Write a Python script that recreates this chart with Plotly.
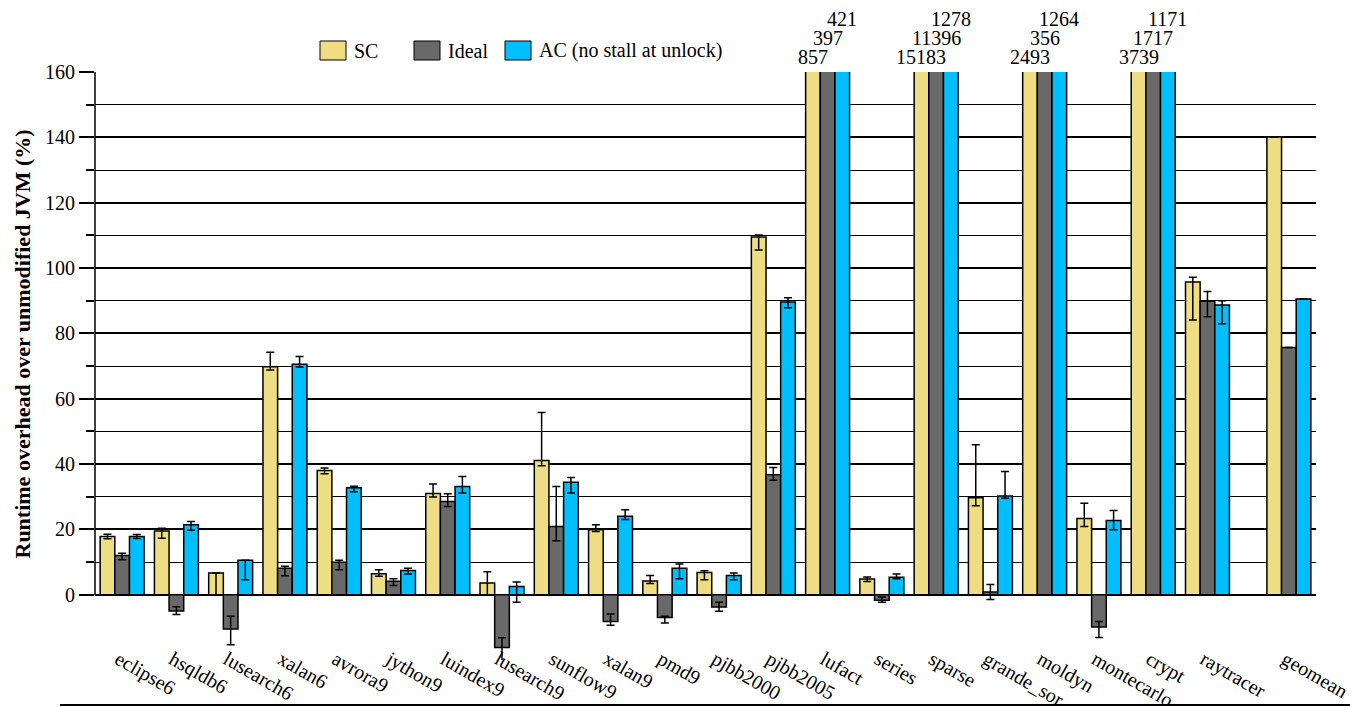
import plotly.graph_objects as go

categories = ["eclipse6", "hsqldb6", "lusearch6", "xalan6", "avrora9", "jython9", "luindex9",
              "lusearch9", "sunflow9", "xalan9", "pmd9", "pjbb2000", "pjbb2005", "lufact",
              "series", "sparse", "grande_sor", "moldyn", "montecarlo", "crypt", "raytracer",
              "geomean"]
# geomean is set apart from the benchmarks by half a slot
positions = list(range(21)) + [21.5]

sc = [17.8, 19.5, 6.6, 69.8, 38.0, 6.4, 31.0, 3.6, 41.1, 19.9, 4.2, 6.8, 109.5, 857,
      4.8, 15183, 29.7, 2493, 23.3, 3739, 95.7, 140.1]
ideal = [12.0, -5.0, -10.5, 8.1, 9.9, 4.1, 28.5, -16.2, 20.9, -8.2, -7.0, -3.8, 36.7, 397,
         -1.7, 11396, 0.8, 356, -9.9, 1717, 89.8, 75.7]
ac = [17.8, 21.4, 10.5, 70.5, 32.7, 7.4, 33.1, 2.5, 34.4, 24.0, 8.1, 5.9, 89.6, 421,
      5.3, 1278, 30.2, 1264, 22.7, 1171, 88.7, 90.5]

sc_err_plus = [0.7, 0.8, 0.0, 4.4, 0.8, 1.2, 2.9, 3.4, 14.7, 1.5, 1.7, 0.5, 0.6, None,
               0.6, None, 16.2, None, 4.7, None, 1.5, None]
sc_err_minus = [0.7, 2.2, 6.6, 1.0, 1.0, 0.8, 1.1, 3.6, 1.6, 0.6, 0.8, 2.2, 4.0, None,
                0.8, None, 2.5, None, 2.4, None, 11.6, None]
ideal_err_plus = [0.7, 1.3, 3.9, 0.6, 0.6, 0.8, 2.4, 3.0, 12.2, 2.3, 0.4, 1.5, 2.2, None,
                  1.0, None, 2.3, None, 1.7, None, 3.0, None]
ideal_err_minus = [1.3, 1.1, 4.8, 2.3, 2.3, 1.3, 1.5, 5.5, 4.4, 1.2, 1.7, 1.3, 1.7, None,
                   0.6, None, 2.3, None, 3.2, None, 4.7, None]
ac_err_plus = [0.6, 1.0, 0.0, 2.4, 0.5, 0.7, 3.1, 1.4, 1.5, 2.0, 1.3, 0.7, 1.3, None,
               1.0, None, 7.5, None, 3.1, None, 1.3, None]
ac_err_minus = [0.6, 1.7, 5.9, 0.8, 1.2, 1.1, 2.0, 4.8, 3.3, 1.0, 3.2, 1.3, 1.8, None,
                0.4, None, 0.7, None, 2.8, None, 5.8, None]

series_names = ["SC", "Ideal", "AC (no stall at unlock)"]
series_colors = ["#EEDD82", "#696969", "#00BFFF"]

y_ticks = [0, 20, 40, 60, 80, 100, 120, 140, 160]
y_minor = [10, 30, 50, 70, 90, 110, 130, 150]
Y_MAX = 160
Y_MIN = -20
y_title = "Runtime overhead over unmodified JVM (%)"

FONT = "Liberation Serif, Times New Roman, serif"

# page body adds an 8px margin around the figure
PAGE_OFF = 8
PLOT_L, PLOT_R, PLOT_T, PLOT_B = 95, 1316, 72, 660   # plot area in page pixels
W, H = 1361 - PAGE_OFF, 707 - PAGE_OFF
ML = PLOT_L - PAGE_OFF
MT = PLOT_T - PAGE_OFF
MR = W - (PLOT_R - PAGE_OFF)
MB = H - (PLOT_B - PAGE_OFF)
PW = PLOT_R - PLOT_L
PH = PLOT_B - PLOT_T


def px2paper_x(px):
    return (px - PLOT_L) / PW


def px2paper_y(py):
    return (PLOT_B - py) / PH


fig = go.Figure()
values = [sc, ideal, ac]
errs = [(sc_err_plus, sc_err_minus), (ideal_err_plus, ideal_err_minus), (ac_err_plus, ac_err_minus)]
for name, col, vals, (ep, em) in zip(series_names, series_colors, values, errs):
    fig.add_trace(go.Bar(
        x=positions, y=vals, name=name, showlegend=False,
        marker=dict(color=col, line=dict(color="black", width=1.5)),
        error_y=dict(type="data", symmetric=False, array=ep, arrayminus=em,
                     color="black", thickness=1.5, width=4),
    ))

BARGAP = 0.19
bar_w = (1 - BARGAP) / 3
offsets = [-bar_w, 0, bar_w]

annotations = []
# labels for truncated bars
yshifts = [3, 22, 41]
for i, p in enumerate(positions):
    for k, vals in enumerate(values):
        if vals[i] > Y_MAX:
            annotations.append(dict(
                x=p + offsets[k], y=Y_MAX, xref="x", yref="y", text=str(vals[i]),
                showarrow=False, yanchor="bottom", xanchor="center", yshift=yshifts[k],
                borderpad=0,
                font=dict(family=FONT, size=20, color="black")))

# y axis title
annotations.append(dict(x=px2paper_x(21.5), y=px2paper_y(344), xref="paper", yref="paper",
                        text="<b>" + y_title + "</b>", textangle=-90, showarrow=False,
                        xanchor="center", yanchor="middle", borderpad=0,
                        font=dict(family=FONT, size=22, color="black")))

# manual legend
shapes = []
leg_x = [320, 414, 505]
for lx, name, col in zip(leg_x, series_names, series_colors):
    shapes.append(dict(type="rect", xref="paper", yref="paper",
                       x0=px2paper_x(lx), x1=px2paper_x(lx + 26),
                       y0=px2paper_y(60), y1=px2paper_y(41),
                       fillcolor=col, line=dict(color="black", width=1)))
    annotations.append(dict(x=px2paper_x(lx + 32), y=px2paper_y(50.5), xref="paper", yref="paper",
                            text=name, showarrow=False, xanchor="left", yanchor="middle",
                            font=dict(family=FONT, size=20, color="black")))

# y axis line from 0 to 160
shapes.append(dict(type="line", xref="paper", yref="y", x0=0, x1=0, y0=0, y1=Y_MAX,
                   line=dict(color="black", width=1.5)))
# bottom rule
shapes.append(dict(type="line", xref="paper", yref="paper",
                   x0=px2paper_x(60), x1=px2paper_x(1350),
                   y0=px2paper_y(705), y1=px2paper_y(705),
                   line=dict(color="black", width=2)))

label_shift = -0.07
fig.update_layout(
    width=W, height=H,
    margin=dict(l=ML, r=MR, t=MT, b=MB, autoexpand=False),
    paper_bgcolor="white", plot_bgcolor="white",
    barmode="group", bargap=BARGAP, bargroupgap=0,
    font=dict(family=FONT, size=20, color="black"),
    shapes=shapes, annotations=annotations,
    xaxis=dict(range=[-0.5, 22.0], tickvals=[p + label_shift for p in positions],
               ticktext=categories,
               tickangle=30, showgrid=False, zeroline=False, showline=False,
               ticks="", anchor="free", position=px2paper_y(643),
               tickfont=dict(family=FONT, size=20, color="black"), automargin=False),
    yaxis=dict(range=[Y_MIN, Y_MAX], tickvals=y_ticks, ticks="outside", ticklen=15,
               tickwidth=1.5, tickcolor="black", showgrid=True, gridcolor="black",
               gridwidth=1.5, zeroline=True, zerolinecolor="black", zerolinewidth=2,
               showline=False, automargin=False,
               tickfont=dict(family=FONT, size=20, color="black"),
               minor=dict(tickvals=y_minor, ticks="outside", ticklen=8, tickwidth=1.5,
                          tickcolor="black", showgrid=True, gridcolor="black", gridwidth=1.2)),
)

fig.write_html("out.html")
